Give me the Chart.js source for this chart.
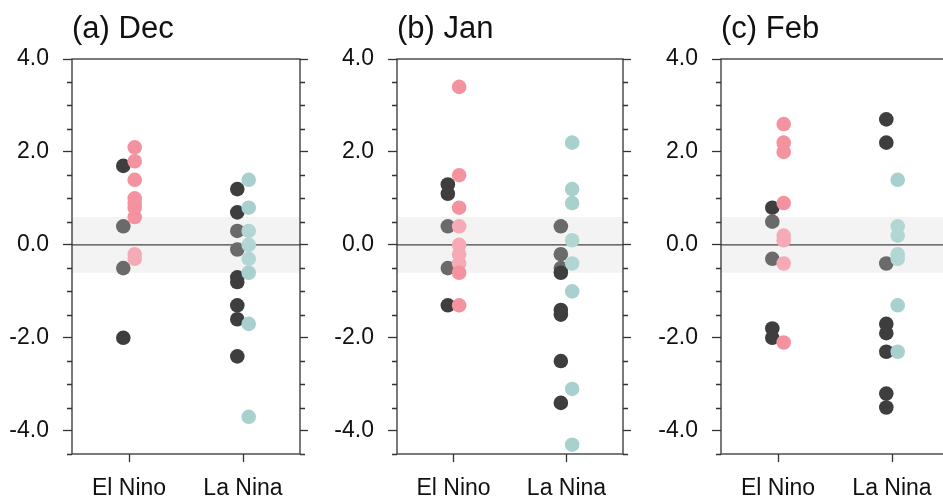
<!DOCTYPE html>
<html>
<head>
<meta charset="utf-8">
<script src="https://cdn.jsdelivr.net/npm/chart.js@4.4.0/dist/chart.umd.min.js"></script>
<style>
  html, body { margin: 0; padding: 0; background: #fff; }
  body { width: 943px; height: 499px; overflow: hidden; position: relative; }
  .panel { position: absolute; top: 0; height: 499px; }
</style>
</head>
<body>
<div class="panel" style="left:0;width:310px"><canvas id="c0"></canvas></div>
<div class="panel" style="left:310px;width:323px"><canvas id="c1"></canvas></div>
<div class="panel" style="left:623px;width:336px"><canvas id="c2"></canvas></div>
<script>
const categories = ['El Nino', 'La Nina'];
const panelTitles = ['(a) Dec', '(b) Jan', '(c) Feb'];
const yTickValues = [-4, -2, 0, 2, 4];

// dark dots
const decNinoDark = [1.7, 0.4, -0.5, -2.0];
const decNinaDark = [1.2, 0.7, 0.3, -0.1, -0.7, -0.8, -1.3, -1.6, -2.4];
const janNinoDark = [1.3, 1.1, 0.4, -0.5, -1.3];
const janNinaDark = [0.4, -0.2, -0.5, -0.6, -1.4, -1.5, -2.5, -3.4];
const febNinoDark = [0.8, 0.5, -0.3, -1.8, -2.0];
const febNinaDark = [2.7, 2.2, -0.4, -1.7, -1.9, -2.3, -3.2, -3.5];

// coloured dots
const decNinoPink = [2.1, 1.8, 1.4, 1.0, 0.9, 0.8, 0.6, -0.2, -0.3];
const decNinaCyan = [1.4, 0.8, 0.3, 0.0, -0.3, -0.6, -1.7, -3.7];
const janNinoPink = [3.4, 1.5, 0.8, 0.4, 0.0, -0.2, -0.4, -0.6, -1.3];
const janNinaCyan = [2.2, 1.2, 0.9, 0.1, -0.4, -1.0, -3.1, -4.3];
const febNinoPink = [2.6, 2.2, 2.0, 0.9, 0.2, 0.1, -0.4, -2.1];
const febNinaCyan = [1.4, 0.4, 0.2, -0.2, -0.3, -1.3, -2.3];

const panels = [
  { dark: [decNinoDark, decNinaDark], pink: decNinoPink, cyan: decNinaCyan, leftW: 72 },
  { dark: [janNinoDark, janNinaDark], pink: janNinoPink, cyan: janNinaCyan, leftW: 87 },
  { dark: [febNinoDark, febNinaDark], pink: febNinoPink, cyan: febNinaCyan, leftW: 98 }
];

const BAND = 0.6;
Chart.defaults.font.family = '"Liberation Sans", Arial, sans-serif';

const weak = v => Math.abs(v) < 0.55;
const pts = (vals, x) => vals.map(v => ({ x: x, y: v }));

// shaded band, zero line, frame, minor ticks, title
const framePlugin = {
  id: 'frame',
  beforeDatasetsDraw(chart) {
    const { ctx, chartArea: a } = chart;
    const y = chart.scales.y;
    ctx.save();
    const t = y.getPixelForValue(BAND), b = y.getPixelForValue(-BAND);
    ctx.fillStyle = '#f3f3f3';
    ctx.fillRect(a.left, t, a.right - a.left, b - t);
    const z = y.getPixelForValue(0);
    ctx.strokeStyle = '#444';
    ctx.lineWidth = 1.2;
    ctx.beginPath();
    ctx.moveTo(a.left, z);
    ctx.lineTo(a.right, z);
    ctx.stroke();
    ctx.restore();
  },
  afterDraw(chart) {
    const { ctx, chartArea: a } = chart;
    const y = chart.scales.y;
    ctx.save();
    ctx.strokeStyle = '#333';
    ctx.lineWidth = 1.3;
    ctx.strokeRect(a.left, a.top, a.right - a.left, a.bottom - a.top);
    ctx.beginPath();
    for (let v = -4.5; v <= 4; v += 0.5) {
      if (yTickValues.includes(v)) continue;
      const py = Math.round(y.getPixelForValue(v)) + 0.5;
      ctx.moveTo(a.left - 5, py); ctx.lineTo(a.left, py);
      ctx.moveTo(a.right, py); ctx.lineTo(a.right + 5, py);
    }
    ctx.stroke();
    ctx.fillStyle = '#111';
    ctx.font = '31px "Liberation Sans", Arial, sans-serif';
    ctx.textBaseline = 'middle';
    ctx.fillText(chart.options.plugins.frame.title, a.left, 29);
    ctx.restore();
  }
};

const axisTicks = s => { s.ticks = yTickValues.map(v => ({ value: v })); };

panels.forEach((p, i) => {
  new Chart(document.getElementById('c' + i), {
    type: 'scatter',
    data: {
      datasets: [
        {
          data: pts(p.pink, 1.05),
          backgroundColor: ctx => weak(ctx.raw.y) ? '#f5aab5' : '#f4939f'
        },
        {
          data: pts(p.cyan, 2.05),
          backgroundColor: ctx => weak(ctx.raw.y) ? '#b2d6d4' : '#a7d0ce'
        },
        {
          data: pts(p.dark[0], 0.95).concat(pts(p.dark[1], 1.95)),
          backgroundColor: ctx => weak(ctx.raw.y) ? '#6a6a6a' : '#3e3e3e'
        }
      ]
    },
    options: {
      responsive: true,
      maintainAspectRatio: false,
      animation: false,
      layout: { padding: { top: 59 } },
      elements: { point: { radius: 7.3, borderWidth: 0, hoverRadius: 7.3 } },
      plugins: {
        legend: { display: false },
        tooltip: { enabled: false },
        frame: { title: panelTitles[i] }
      },
      scales: {
        x: {
          type: 'linear', min: 0.5, max: 2.5,
          afterBuildTicks: s => { s.ticks = categories.map((c, k) => ({ value: k + 1 })); },
          afterFit: s => { s.height = 45; },
          grid: { drawOnChartArea: false, tickLength: 8, tickColor: '#333', tickWidth: 1.3 },
          border: { display: false },
          ticks: { callback: v => categories[v - 1], font: { size: 23 }, color: '#111', padding: 13, maxRotation: 0, autoSkip: false }
        },
        y: {
          min: -4.5, max: 4,
          afterBuildTicks: axisTicks,
          afterFit: s => { s.width = p.leftW; },
          grid: { drawOnChartArea: false, tickLength: 9, tickColor: '#333', tickWidth: 1.3 },
          border: { display: false },
          ticks: { callback: v => v.toFixed(1), font: { size: 23 }, color: '#111', padding: 14 }
        },
        y2: {
          position: 'right', min: -4.5, max: 4,
          afterBuildTicks: axisTicks,
          afterFit: s => { s.width = 10; },
          grid: { drawOnChartArea: false, tickLength: 8, tickColor: '#333', tickWidth: 1.3 },
          border: { display: false },
          ticks: { display: false }
        }
      }
    },
    plugins: [framePlugin]
  });
});
</script>
</body>
</html>
